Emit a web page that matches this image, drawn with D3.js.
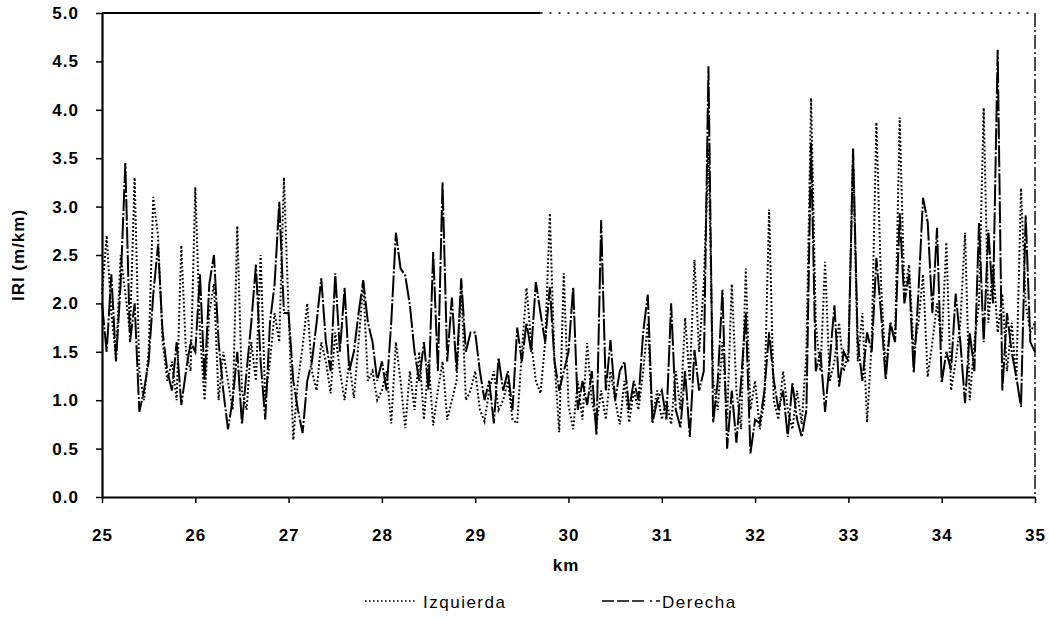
<!DOCTYPE html>
<html>
<head>
  <meta charset="utf-8">
  <script src="https://d3js.org/d3.v7.min.js"></script>
  <style>
    body { margin: 0; background: #fff; }
    text { font-family: "Liberation Sans", Arial, sans-serif; fill: #000; }
  </style>
</head>
<body>
  <div id="chart"></div>
  <script>

    // IRI every 50 m, km 25.00 -> 35.00 (one row per km)
    var izquierda = [
      2.1, 2.7, 1.9, 1.45, 2.5, 2.1, 1.7, 3.3, 1.3, 1.0, 1.5, 3.1, 2.7, 1.6, 1.2, 1.4, 1.0, 2.6, 1.5, 1.3,
      3.2, 1.7, 1.0, 1.9, 2.2, 1.0, 1.5, 1.2, 0.9, 2.8, 1.1, 0.9, 1.6, 1.2, 2.5, 1.0, 1.4, 1.9, 1.6, 3.3,
      1.9, 0.59, 1.2, 1.55, 2.0, 1.3, 1.1, 1.6, 1.4, 1.07, 1.7, 1.3, 1.0, 1.4, 1.02, 1.6, 2.2, 1.2, 1.3, 1.0,
      1.1, 1.3, 0.76, 1.6, 1.2, 0.71, 1.3, 0.9, 1.5, 0.8, 1.4, 0.74, 1.1, 1.4, 0.8, 1.0, 1.2, 2.17, 1.0, 1.1,
      1.3, 0.9, 0.78, 1.1, 1.3, 0.9, 1.0, 1.2, 0.8, 0.76, 1.5, 2.16, 1.6, 1.2, 1.07, 1.6, 2.93, 1.4, 0.67, 2.31,
      0.95, 0.7, 1.2, 0.8, 1.59, 1.0, 0.75, 1.1, 0.8, 1.3, 1.0, 0.75, 1.2, 0.77, 1.1, 0.9, 1.3, 1.8, 0.8, 1.1,
      0.8, 1.0, 0.75, 1.3, 0.9, 1.85, 1.2, 2.45, 1.5, 2.2, 3.6, 1.2, 0.9, 1.6, 0.8, 2.2, 1.1, 0.7, 2.36, 0.9,
      1.2, 0.7, 1.0, 2.97, 1.0, 0.8, 1.3, 0.9, 0.7, 1.1, 0.75, 1.5, 4.12, 1.8, 1.3, 2.43, 1.2, 1.4, 1.8, 1.3,
      1.5, 3.58, 1.4, 1.9, 0.77, 1.6, 3.87, 2.2, 1.3, 1.8, 1.6, 3.92, 2.1, 2.4, 1.5, 1.8, 2.3, 1.24, 1.6, 2.0,
      1.6, 2.63, 1.1, 1.4, 1.8, 2.73, 1.0, 1.6, 2.0, 4.02, 1.8, 2.4, 1.7, 2.1, 1.3, 1.8, 1.2, 3.19, 2.0, 1.7,
      1.8
    ]

    var derecha = [
      2.0, 1.5, 2.3, 1.4, 2.2, 3.45, 1.6, 2.0, 0.88, 1.1, 1.4, 2.1, 2.6, 1.7, 1.3, 1.1, 1.6, 0.95, 1.3, 1.6,
      1.5, 2.3, 1.2, 2.2, 2.5, 1.6, 1.1, 0.7, 1.0, 1.5, 0.75, 1.3, 1.8, 2.4, 1.4, 0.8, 1.8, 2.2, 3.05, 1.9,
      1.9, 1.2, 0.9, 0.66, 1.2, 1.4, 1.8, 2.26, 1.6, 1.3, 2.31, 1.5, 2.16, 1.3, 1.5, 1.9, 2.24, 1.8, 1.6, 1.2,
      1.4, 1.1, 1.8, 2.73, 2.36, 2.29, 1.98, 1.5, 1.2, 1.6, 1.1, 2.53, 1.3, 3.25, 1.4, 2.06, 1.3, 2.26, 1.5, 1.7,
      1.7, 1.3, 1.0, 1.2, 0.76, 1.44, 1.1, 1.3, 0.9, 1.75, 1.4, 1.8, 1.5, 2.22, 1.9, 1.6, 2.17, 1.4, 1.1, 1.3,
      1.5, 2.17, 0.9, 1.2, 0.95, 1.3, 0.64, 2.86, 1.1, 1.62, 1.0, 1.3, 1.4, 0.9, 1.2, 1.0, 1.7, 2.09, 0.76, 1.0,
      1.1, 0.8, 2.0, 0.9, 0.72, 1.3, 0.62, 1.52, 1.1, 1.3, 4.45, 0.77, 1.2, 2.14, 0.5, 1.1, 0.56, 1.2, 1.9, 0.45,
      0.8, 0.76, 1.1, 1.7, 1.21, 0.9, 1.1, 0.62, 1.18, 0.8, 0.62, 0.9, 3.66, 1.3, 1.5, 0.88, 1.4, 1.98, 1.14, 1.5,
      1.4, 3.6, 1.6, 1.2, 1.7, 1.5, 2.47, 1.9, 1.21, 1.8, 1.6, 2.93, 2.0, 2.3, 1.28, 2.1, 3.09, 2.84, 1.9, 2.78,
      1.18, 1.5, 1.31, 2.1, 1.6, 0.97, 1.7, 1.3, 2.83, 1.6, 2.76, 2.0, 4.62, 1.1, 1.9, 1.5, 1.24, 0.93, 2.91, 1.6,
      1.5
    ]

    var kmStart = 25
    var kmStep = 0.05
    var xTicks = [25, 26, 27, 28, 29, 30, 31, 32, 33, 34, 35]
    var yTicks = [0, 0.5, 1, 1.5, 2, 2.5, 3, 3.5, 4, 4.5, 5]
    var seriesNames = ["Izquierda", "Derecha"]

    var width = 1049, height = 618
    var svg = d3.select("#chart").append("svg")
      .attr("width", width)
      .attr("height", height)

    var x = d3.scaleLinear().domain([25, 35]).range([102, 1035])
    var y = d3.scaleLinear().domain([0, 5]).range([497, 13])

    function toPoints(values) {
      return values.map(function(v, i) { return { km: kmStart + i * kmStep, v: v } })
    }

    var line = d3.line()
      .x(function(d) { return x(d.km) })
      .y(function(d) { return y(d.v) })

    // frame bits at top / right (as in the scan)
    svg.append("line")
      .attr("x1", x(25)).attr("x2", x(29.7))
      .attr("y1", y(5)).attr("y2", y(5))
      .attr("stroke", "#000").attr("stroke-width", 1.8)
    svg.append("line")
      .attr("x1", x(29.7)).attr("x2", x(35))
      .attr("y1", y(5)).attr("y2", y(5))
      .attr("stroke", "#000").attr("stroke-width", 1.5)
      .attr("stroke-dasharray", "2,7")
    svg.append("line")
      .attr("x1", x(35)).attr("x2", x(35))
      .attr("y1", y(5)).attr("y2", y(0))
      .attr("stroke", "#000").attr("stroke-width", 1.4)
      .attr("stroke-dasharray", "14,3,2,3")

    // series
    svg.append("path")
      .datum(toPoints(izquierda))
      .attr("fill", "none")
      .attr("stroke", "#000")
      .attr("stroke-width", 2)
      .attr("stroke-dasharray", "1.8,2.2")
      .attr("d", line)

    svg.append("path")
      .datum(toPoints(derecha))
      .attr("fill", "none")
      .attr("stroke", "#000")
      .attr("stroke-width", 2)
      .attr("stroke-dasharray", "22,2,2,2")
      .attr("d", line)

    // axes
    var yAxis = svg.append("g")
      .attr("transform", "translate(" + x(25) + ",0)")
      .call(d3.axisLeft(y).tickValues(yTicks).tickFormat(d3.format(".1f"))
        .tickSize(6).tickSizeOuter(0).tickPadding(17))
    var xAxis = svg.append("g")
      .attr("transform", "translate(0," + y(0) + ")")
      .call(d3.axisBottom(x).tickValues(xTicks).tickFormat(d3.format("d"))
        .tickSize(6).tickSizeOuter(0).tickPadding(26))

    svg.selectAll(".domain").attr("stroke", "#000").attr("stroke-width", 2.2)
    svg.selectAll(".tick line").attr("stroke", "#000").attr("stroke-width", 1.5)
    svg.selectAll(".tick text")
      .style("font-size", "17px")
      .style("font-weight", "bold")
      .style("letter-spacing", "1px")
      .attr("fill", "#000")

    // axis titles
    svg.append("text")
      .attr("transform", "translate(24,255) rotate(-90)")
      .attr("text-anchor", "middle")
      .style("font-size", "17px")
      .style("font-weight", "bold")
      .style("letter-spacing", "1px")
      .text("IRI (m/km)")

    svg.append("text")
      .attr("x", 566).attr("y", 571)
      .attr("text-anchor", "middle")
      .style("font-size", "17px")
      .style("font-weight", "bold")
      .style("letter-spacing", "1px")
      .text("km")

    // legend
    var legend = svg.append("g")
    var legendItems = [
      { name: seriesNames[0], x0: 365, x1: 417, tx: 423, dash: "1.6,2.4" },
      { name: seriesNames[1], x0: 602, x1: 660, tx: 662, dash: "12,3,12,3,12,6,2,4" }
    ]
    legendItems.forEach(function(d) {
      legend.append("line")
        .attr("x1", d.x0).attr("x2", d.x1)
        .attr("y1", 601).attr("y2", 601)
        .attr("stroke", "#000").attr("stroke-width", 1.4)
        .attr("stroke-dasharray", d.dash)
      legend.append("text")
        .attr("x", d.tx).attr("y", 608)
        .style("font-size", "17px")
        .style("letter-spacing", "1.5px")
        .text(d.name)
    })

  </script>
</body>
</html>
